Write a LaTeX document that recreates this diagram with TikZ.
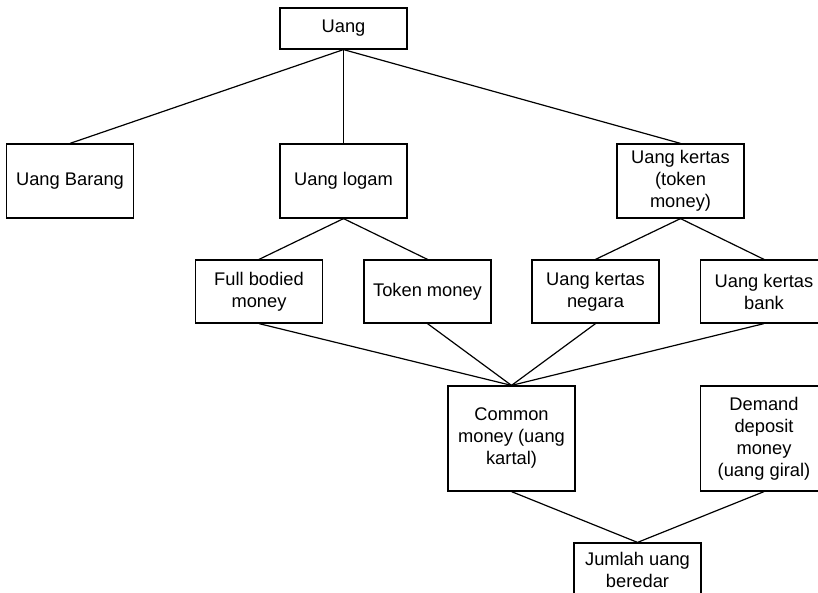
\documentclass[tikz,border=0pt]{standalone}
\usepackage{fontspec}
\setmainfont{Liberation Sans}
\begin{document}
\begin{tikzpicture}[x=1pt,y=-1pt,
  box/.style={draw=black,line width=1.2pt,rectangle,inner sep=0pt,align=center,
    font=\fontsize{18.3}{22}\selectfont,minimum width=127pt},
  link/.style={draw=black,line width=1.2pt}]
\useasboundingbox (0,0) rectangle (818,593);
\clip (0,0) rectangle (818,593);
\node[box,minimum height=41pt] (uang) at (343.5,28.5) {Uang};
\node[box,minimum height=74pt] (barang) at (70,181) {Uang Barang};
\node[box,minimum height=74pt] (logam) at (343.5,181) {Uang logam};
\node[box,minimum height=74pt] (kertas) at (680.5,181) {Uang kertas\\(token\\money)};
\node[box,minimum height=63pt] (full) at (259,291.5) {Full bodied\\money};
\node[box,minimum height=63pt] (token) at (427.5,291.5) {Token money};
\node[box,minimum height=63pt] (negara) at (595.5,291.5) {Uang kertas\\negara};
\node[box,minimum height=63pt] (bank) at (764,291.5) {Uang kertas\\bank};
\node[box,minimum height=105pt] (common) at (511.5,438.5) {Common\\money (uang\\kartal)};
\node[box,minimum height=105pt] (demand) at (764,438.5) {Demand\\deposit\\money\\(uang giral)};
\node[box,minimum height=53pt] (jumlah) at (637.5,569.5) {Jumlah uang\\beredar};
\draw[link] (uang.south) -- (barang.north);
\draw[link] (uang.south) -- (logam.north);
\draw[link] (uang.south) -- (kertas.north);
\draw[link] (logam.south) -- (full.north);
\draw[link] (logam.south) -- (token.north);
\draw[link] (kertas.south) -- (negara.north);
\draw[link] (kertas.south) -- (bank.north);
\draw[link] (full.south) -- (common.north);
\draw[link] (token.south) -- (common.north);
\draw[link] (negara.south) -- (common.north);
\draw[link] (bank.south) -- (common.north);
\draw[link] (common.south) -- (jumlah.north);
\draw[link] (demand.south) -- (jumlah.north);
\end{tikzpicture}
\end{document}
